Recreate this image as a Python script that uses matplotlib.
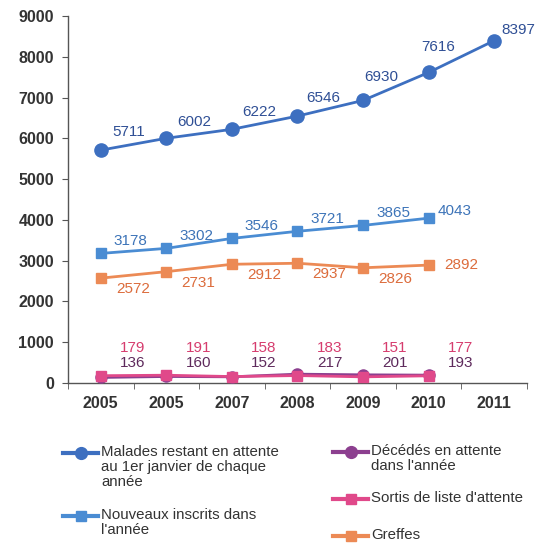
import matplotlib.pyplot as plt
from matplotlib.lines import Line2D

plt.rcParams['font.family'] = ['Liberation Sans', 'DejaVu Sans']

years = ['2005', '2005', '2007', '2008', '2009', '2010', '2011']

malades = [5711, 6002, 6222, 6546, 6930, 7616, 8397]
nouveaux = [3178, 3302, 3546, 3721, 3865, 4043]
greffes = [2572, 2731, 2912, 2937, 2826, 2892]
decedes = [136, 160, 152, 217, 201, 193]
sortis = [179, 191, 158, 183, 151, 177]

lbl_malades = 'Malades restant en attente\nau 1er janvier de chaque\nannée'
lbl_nouveaux = 'Nouveaux inscrits dans\nl\'année'
lbl_decedes = 'Décédés en attente\ndans l\'année'
lbl_sortis = 'Sortis de liste d\'attente'
lbl_greffes = 'Greffes'

c_malades, t_malades = '#3d6fc0', '#2f4f95'
c_nouveaux, t_nouveaux = '#4a8cd3', '#3d74b8'
c_greffes, t_greffes = '#ec8a55', '#dc6c3c'
c_decedes, t_decedes = '#8c3f8f', '#5e2a5c'
c_sortis, t_sortis = '#e0498a', '#d63c6e'

fig = plt.figure(figsize=(5.47, 5.47), dpi=100)
ax = fig.add_axes([0.1243, 0.2998, 0.8391, 0.6709])

PX = 0.72  # points per pixel at 100 dpi


def series(vals, color, tcolor, marker, ms, offsets, z, on_axis=False):
    xs = list(range(len(vals)))
    ax.plot(xs, vals, color=color, lw=2.0, marker=marker, ms=ms,
            mfc=color, mec=color, zorder=z, clip_on=False)
    for x, v in zip(xs, vals):
        dx, dy = offsets[x] if isinstance(offsets, list) else offsets
        anchor = (x, 0) if on_axis else (x, v)
        ax.annotate(str(v), anchor, xytext=(dx * PX, dy * PX),
                    textcoords='offset points', ha='center', va='center',
                    fontsize=11, color=tcolor)


# label offsets in pixels (right, up)
series(malades, c_malades, t_malades, 'o', 9.5,
       [(28, 18), (28, 16), (27, 17), (26, 18), (18, 23), (10, 25), (24, 11)], 5)
series(nouveaux, c_nouveaux, t_nouveaux, 's', 7.5,
       [(30, 12)] * 5 + [(26, 7)], 5)
series(greffes, c_greffes, t_greffes, 's', 7.5,
       [(32, -11)] * 5 + [(33, 0)], 5)
series(decedes, c_decedes, t_decedes, 'o', 8, (32, 20), 4, on_axis=True)
series(sortis, c_sortis, t_sortis, 's', 7.5, (32, 35), 4, on_axis=True)

ax.set_xlim(-0.5, 6.5)
ax.set_ylim(0, 9000)
ax.set_yticks(range(0, 9001, 1000))
ax.set_xticks(range(len(years)))
ax.set_xticklabels(years)
ax.set_xticks([i + 0.5 for i in range(-1, 7)], minor=True)
ax.tick_params(axis='x', which='major', length=0, pad=9)
ax.tick_params(axis='x', which='minor', length=4, direction='out', color='#555555')
ax.tick_params(axis='y', length=4, direction='out', color='#555555', pad=6)
for t in ax.get_xticklabels() + ax.get_yticklabels():
    t.set_fontsize(11.5)
    t.set_fontweight('bold')
    t.set_color('#333333')
for s in ['top', 'right']:
    ax.spines[s].set_visible(False)
for s in ['left', 'bottom']:
    ax.spines[s].set_color('#555555')
    ax.spines[s].set_linewidth(1.0)

# legend drawn by hand so the handle sits on the first text line
entries = [
    (lbl_malades, c_malades, 'o', 63, 453),
    (lbl_nouveaux, c_nouveaux, 's', 63, 516),
    (lbl_decedes, c_decedes, 'o', 333, 452),
    (lbl_sortis, c_sortis, 's', 333, 499),
    (lbl_greffes, c_greffes, 's', 333, 536),
]
W = H = 547.0
for text, color, marker, x0, y0 in entries:
    yf = 1 - y0 / H
    fig.add_artist(Line2D([x0 / W, (x0 + 35) / W], [yf, yf], color=color, lw=3))
    fig.add_artist(Line2D([(x0 + 17.5) / W], [yf], color=color, marker=marker,
                          ms=8.5 if marker == 'o' else 7.5, mfc=color, mec=color))
    fig.text((x0 + 38) / W, yf + 8 / H, text, ha='left', va='top', fontsize=10.8,
             color='#333333', linespacing=1.1)

fig.savefig('out.png', dpi=100)
